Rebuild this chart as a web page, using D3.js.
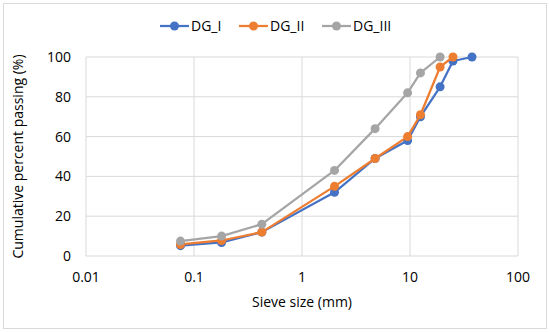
<!DOCTYPE html>
<html>
<head>
<meta charset="utf-8">
<script src="https://cdn.jsdelivr.net/npm/d3@7"></script>
<style>
  body { margin: 0; background: #fff; }
  svg { font-family: "Open Sans", "Liberation Sans", sans-serif; }
</style>
</head>
<body>
<svg id="chart" width="550" height="332"></svg>
<script>
// sieve sizes (mm) and cumulative passing (%)
const sizesI = [0.075, 0.18, 0.425, 2, 4.75, 9.5, 12.5, 19, 25, 37.5];
const passI = [5.2, 6.8, 12, 32, 49, 58, 70, 85, 98, 100];
const sizesII = [0.075, 0.18, 0.425, 2, 4.75, 9.5, 12.5, 19, 25];
const passII = [5.8, 7.8, 12, 35, 49, 60, 71, 95, 100];
const sizesIII = [0.075, 0.18, 0.425, 2, 4.75, 9.5, 12.5, 19];
const passIII = [7.5, 10, 16, 43, 64, 82, 92, 100];

const seriesNames = ["DG_I", "DG_II", "DG_III"];
const seriesColors = ["#4472C4", "#ED7D31", "#A5A5A5"];
const xTicks = [0.01, 0.1, 1, 10, 100];
const yTicks = [0, 20, 40, 60, 80, 100];

const series = [
  { name: seriesNames[0], color: seriesColors[0], pts: sizesI.map((s, i) => [s, passI[i]]) },
  { name: seriesNames[1], color: seriesColors[1], pts: sizesII.map((s, i) => [s, passII[i]]) },
  { name: seriesNames[2], color: seriesColors[2], pts: sizesIII.map((s, i) => [s, passIII[i]]) }
];

const svg = d3.select("#chart");
const margin = { top: 57, right: 32, bottom: 76, left: 86 };
const width = 550, height = 332;
const innerW = width - margin.left - margin.right;
const innerH = height - margin.top - margin.bottom;

// outer frame
svg.append("rect")
  .attr("x", 3.5).attr("y", 3.5)
  .attr("width", 543).attr("height", 325)
  .attr("fill", "#fff").attr("stroke", "#d9d9d9");

const g = svg.append("g").attr("transform", `translate(${margin.left},${margin.top})`);

const x = d3.scaleLog().domain([0.01, 100]).range([0, innerW]);
const y = d3.scaleLinear().domain([0, 100]).range([innerH, 0]);

// gridlines
g.selectAll(".hgrid").data(yTicks).join("line")
  .attr("class", "hgrid")
  .attr("x1", 0).attr("x2", innerW)
  .attr("y1", d => y(d)).attr("y2", d => y(d))
  .attr("stroke", "#d9d9d9").attr("stroke-width", 1);

g.selectAll(".vgrid").data(xTicks).join("line")
  .attr("class", "vgrid")
  .attr("x1", d => x(d)).attr("x2", d => x(d))
  .attr("y1", 0).attr("y2", innerH)
  .attr("stroke", "#d9d9d9").attr("stroke-width", 1);

// tick labels
g.selectAll(".ylab").data(yTicks).join("text")
  .attr("class", "ylab")
  .attr("x", -15).attr("y", d => y(d) + 5)
  .attr("text-anchor", "end")
  .style("font-size", "14px").attr("fill", "#000")
  .text(d => d);

g.selectAll(".xlab").data(xTicks).join("text")
  .attr("class", "xlab")
  .attr("x", d => x(d)).attr("y", innerH + 26)
  .attr("text-anchor", "middle")
  .style("font-size", "14px").attr("fill", "#000")
  .text(d => d);

// axis titles
svg.append("text")
  .attr("x", margin.left + innerW / 2).attr("y", 307)
  .attr("text-anchor", "middle")
  .style("font-size", "14px")
  .text("Sieve size (mm)");

svg.append("text")
  .attr("transform", `translate(23, ${margin.top + innerH / 2}) rotate(-90)`)
  .attr("text-anchor", "middle")
  .style("font-size", "14px")
  .text("Cumulative percent passing (%)");

// lines and markers
const line = d3.line().x(d => x(d[0])).y(d => y(d[1]));

series.forEach(s => {
  g.append("path")
    .datum(s.pts)
    .attr("d", line)
    .attr("fill", "none")
    .attr("stroke", s.color)
    .attr("stroke-width", 2.25)
    .attr("stroke-linejoin", "round");
  g.selectAll(null).data(s.pts).join("circle")
    .attr("cx", d => x(d[0])).attr("cy", d => y(d[1]))
    .attr("r", 4.5)
    .attr("fill", s.color);
});

// legend
const legendX = [160, 239, 322];
const legend = svg.append("g").attr("transform", "translate(0,26)");
const items = legend.selectAll("g").data(series).join("g")
  .attr("transform", (d, i) => `translate(${legendX[i]},0)`);
items.append("line")
  .attr("x1", 0).attr("x2", 29).attr("y1", 0).attr("y2", 0)
  .attr("stroke", d => d.color).attr("stroke-width", 2.25);
items.append("circle")
  .attr("cx", 14.5).attr("cy", 0).attr("r", 4.5)
  .attr("fill", d => d.color);
items.append("text")
  .attr("x", 31).attr("y", 5)
  .style("font-size", "14px")
  .text(d => d.name);
</script>
</body>
</html>
